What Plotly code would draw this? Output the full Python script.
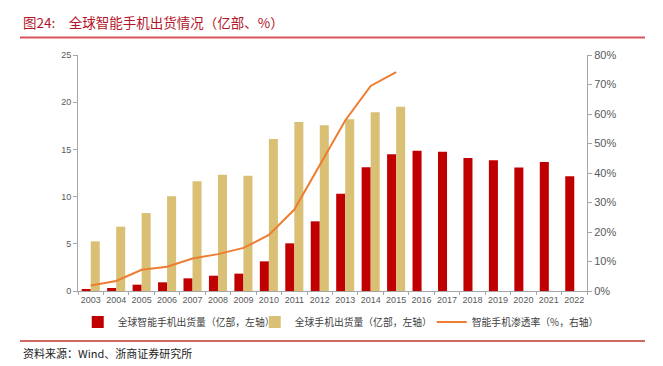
import plotly.graph_objects as go

years = [str(y) for y in range(2003, 2023)]
smart_shipments = [0.21, 0.32, 0.67, 0.92, 1.34, 1.62, 1.84, 3.14, 5.05, 7.38, 10.31, 13.1, 14.48,
                   14.87, 14.76, 14.09, 13.84, 13.07, 13.67, 12.15]
total_shipments = [5.26, 6.81, 8.26, 10.03, 11.62, 12.32, 12.22, 16.10, 17.90, 17.55, 18.19, 18.93, 19.53,
                   None, None, None, None, None, None, None]
penetration = [1.9, 3.4, 7.2, 8.2, 11.0, 12.5, 14.6, 19.0, 27.6, 42.5, 57.8, 69.5, 74.2,
               None, None, None, None, None, None, None]

left_ticks = [0, 5, 10, 15, 20, 25]
right_ticks = [0, 10, 20, 30, 40, 50, 60, 70, 80]
right_tick_labels = [f"{v}%" for v in right_ticks]

RED = "#C00000"
GOLD = "#D9C074"
ORANGE = "#ED7D31"
GRAY = "#595959"
AXIS = "#A6A6A6"

fig = go.Figure()
fig.add_trace(go.Bar(x=years, y=smart_shipments, name="全球智能手机出货量（亿部，左轴）",
                     marker=dict(color=RED, line=dict(width=0))))
fig.add_trace(go.Bar(x=years, y=total_shipments, name="全球手机出货量（亿部，左轴）",
                     marker=dict(color=GOLD, line=dict(width=0))))
fig.add_trace(go.Scatter(x=years, y=penetration, name="智能手机渗透率（%，右轴）", yaxis="y2",
                         mode="lines", line=dict(color=ORANGE, width=2), connectgaps=False))

W, L, R, T, B = 663, 78, 76, 55, 75
pw = W - L - R
ph = 366 - T - B

def px(xp):
    return (xp - L) / pw

def py(yp):
    return (366 - B - yp) / ph

fig.update_layout(
    width=663, height=366, autosize=False,
    margin=dict(l=L, r=R, t=T, b=B, autoexpand=False),
    paper_bgcolor="white", plot_bgcolor="white",
    barmode="group", bargap=0.29, bargroupgap=0,
    font=dict(family="Liberation Sans, Arial, sans-serif", size=9, color=GRAY),
    xaxis=dict(type="category", showgrid=False, showline=True, linecolor=AXIS, linewidth=1,
               ticks="outside", tickson="boundaries", ticklen=3, tickcolor=AXIS,
               tickfont=dict(size=9, color=GRAY), tickangle=0),
    yaxis=dict(range=[0, 25], tickvals=left_ticks, showgrid=False, showline=True, linecolor=AXIS,
               ticks="outside", ticklen=4, tickcolor=AXIS, tickfont=dict(size=9, color=GRAY),
               zeroline=False),
    yaxis2=dict(range=[0, 80], tickvals=right_ticks, ticktext=right_tick_labels, overlaying="y",
                side="right", showgrid=False, showline=True, linecolor=AXIS, ticks="outside",
                ticklen=4, tickcolor=AXIS, tickfont=dict(size=11, color=GRAY), zeroline=False),
    legend=dict(orientation="h", x=-0.0005, xanchor="left", y=py(322), yanchor="middle",
                font=dict(size=9.8, color="#404040",
                          family="Noto Sans CJK SC, Liberation Sans, sans-serif"),
                itemwidth=30, tracegroupgap=0, bgcolor="rgba(0,0,0,0)",
                entrywidth=132, entrywidthmode="pixels"),
    showlegend=True,
)

fig.add_annotation(text="图24:　全球智能手机出货情况（亿部、%）", xref="paper", yref="paper",
                   x=px(21), y=py(22), xanchor="left", yanchor="middle", showarrow=False,
                   font=dict(size=13.5, color="#B3162A", family="Noto Sans CJK SC, sans-serif"))
fig.add_annotation(text="资料来源：Wind、浙商证券研究所", xref="paper", yref="paper",
                   x=px(21), y=py(353), xanchor="left", yanchor="middle", showarrow=False,
                   font=dict(size=11, color="#222222",
                             family="Noto Sans CJK SC, Liberation Serif, serif"))
fig.add_shape(type="line", xref="paper", yref="paper", x0=px(20), x1=px(645), y0=py(37.5), y1=py(37.5),
              line=dict(color="#D9545A", width=2))
fig.add_shape(type="line", xref="paper", yref="paper", x0=px(20), x1=px(645), y0=py(341), y1=py(341),
              line=dict(color="#C0392B", width=1.3))

fig.write_html("out.html", config={"displayModeBar": False},
               post_script="document.body.style.margin='0';")
